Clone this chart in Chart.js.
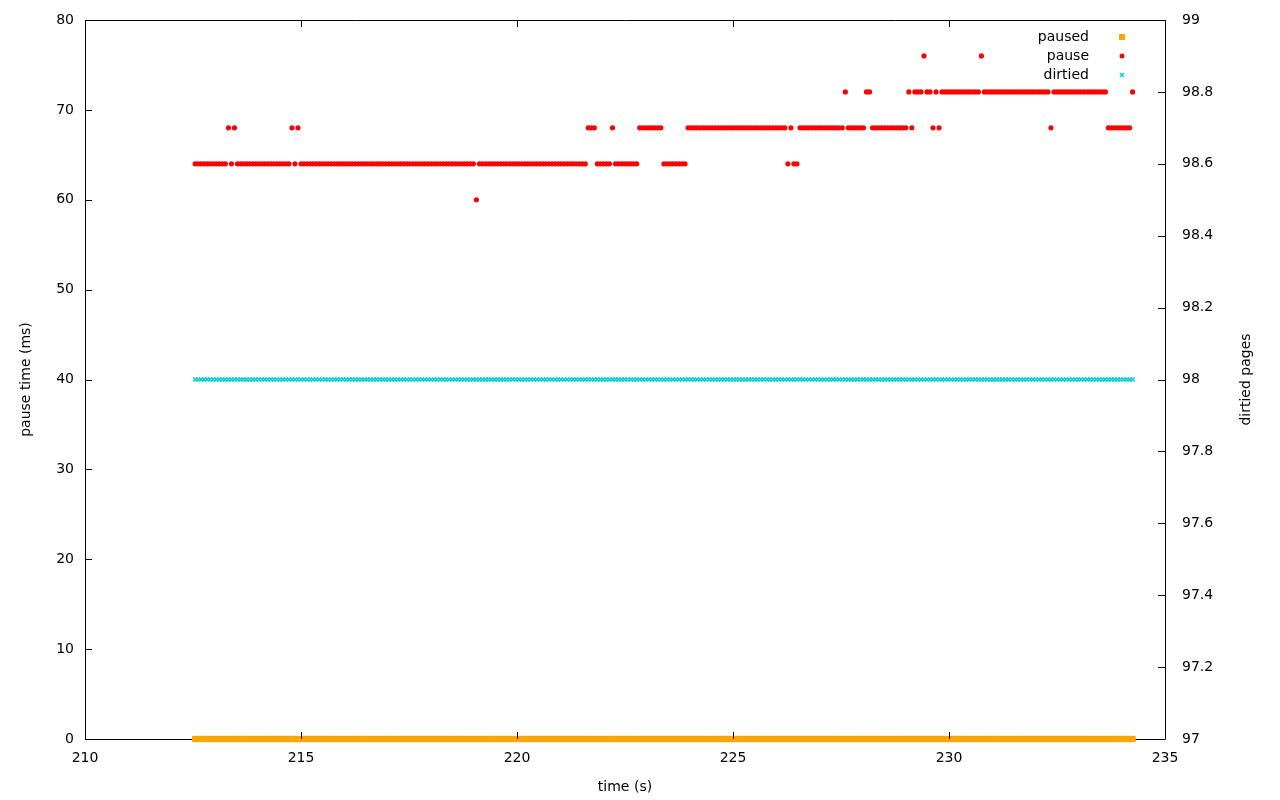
<!DOCTYPE html>
<html>
<head>
<meta charset="utf-8">
<script src="https://cdn.jsdelivr.net/npm/chart.js@4.4.1/dist/chart.umd.min.js"></script>
<style>
  html, body { margin: 0; padding: 0; background: #fff; }
  canvas { display: block; }
</style>
</head>
<body>
<canvas id="chart" width="1280" height="800"></canvas>
<script>
// sampling of the trace (one sample every ~0.07 s)
const sampleStart = 212.55;
const sampleStep = 0.07;

// pause time (ms), as [value, number of samples]
const pauseRuns = [
  [64, 11], [68, 1], [64, 1], [68, 1], [64, 18], [68, 1], [64, 1], [68, 1],
  [64, 58], [60, 1], [64, 36], [68, 3], [64, 5], [68, 1], [64, 8], [68, 8],
  [64, 8], [68, 33], [64, 1], [68, 1], [64, 2], [68, 15], [72, 1], [68, 6],
  [72, 2], [68, 12], [72, 1], [68, 1], [72, 3], [76, 1], [72, 2], [68, 1],
  [72, 1], [68, 1], [72, 13], [76, 1], [72, 22], [68, 1], [72, 18], [68, 8],
  [72, 1]
];
const pausedValue = 0;     // paused flag, always 0 in this window
const dirtiedValue = 98;   // dirtied pages, constant

const xTicks = [210, 215, 220, 225, 230, 235];
const seriesNames = ['paused', 'pause', 'dirtied'];
const seriesColors = ['#ffa500', '#ff0000', '#00ced1'];

// build points
const pausePts = [];
const pausedPts = [];
const dirtiedPts = [];
let idx = 0;
pauseRuns.forEach(([v, n]) => {
  for (let k = 0; k < n; k++) {
    const t = sampleStart + idx * sampleStep;
    pausePts.push({ x: t, y: v });
    pausedPts.push({ x: t, y: pausedValue });
    dirtiedPts.push({ x: t, y: dirtiedValue });
    idx++;
  }
});

const FONT = 'DejaVu Sans';
const TICK = 7;

// border, inward ticks, axis titles and gnuplot-like key
const gnuFrame = {
  id: 'gnuFrame',
  beforeDatasetsDraw(chart) {
    const { ctx, chartArea: a } = chart;
    ctx.save();
    ctx.strokeStyle = '#000';
    ctx.lineWidth = 1;
    ctx.beginPath();
    ctx.rect(a.left + 0.5, a.top + 0.5, a.right - a.left, a.bottom - a.top);
    ctx.stroke();
    ctx.restore();
  },
  afterDraw(chart) {
    const { ctx, chartArea: a, scales } = chart;
    ctx.save();
    ctx.strokeStyle = '#000';
    ctx.lineWidth = 1;
    ctx.beginPath();
    xTicks.forEach((v) => {
      const x = Math.round(scales.x.getPixelForValue(v)) + 0.5;
      ctx.moveTo(x, a.bottom); ctx.lineTo(x, a.bottom - TICK);
      ctx.moveTo(x, a.top); ctx.lineTo(x, a.top + TICK);
    });
    scales.y.ticks.forEach((t) => {
      const y = Math.round(scales.y.getPixelForValue(t.value)) + 0.5;
      ctx.moveTo(a.left, y); ctx.lineTo(a.left + TICK, y);
    });
    scales.y2.ticks.forEach((t) => {
      const y = Math.round(scales.y2.getPixelForValue(t.value)) + 0.5;
      ctx.moveTo(a.right, y); ctx.lineTo(a.right - TICK, y);
    });
    ctx.stroke();

    // axis titles
    ctx.fillStyle = '#000';
    ctx.font = '14px "' + FONT + '"';
    ctx.textAlign = 'center';
    ctx.textBaseline = 'middle';
    ctx.fillText('time (s)', (a.left + a.right) / 2, 787);
    ctx.save();
    ctx.translate(26, (a.top + a.bottom) / 2);
    ctx.rotate(-Math.PI / 2);
    ctx.fillText('pause time (ms)', 0, 0);
    ctx.restore();
    ctx.save();
    ctx.translate(1246, (a.top + a.bottom) / 2);
    ctx.rotate(-Math.PI / 2);
    ctx.fillText('dirtied pages', 0, 0);
    ctx.restore();

    // key
    const rows = [37, 56, 75];
    ctx.textAlign = 'right';
    seriesNames.forEach((name, i) => {
      ctx.fillStyle = '#000';
      ctx.fillText(name, 1089, rows[i]);
      const mx = 1122, my = rows[i];
      ctx.fillStyle = seriesColors[i];
      ctx.strokeStyle = seriesColors[i];
      if (i === 0) {
        ctx.fillRect(mx - 3, my - 3, 6, 6);
      } else if (i === 1) {
        ctx.beginPath(); ctx.arc(mx, my, 2.5, 0, Math.PI * 2); ctx.fill();
      } else {
        ctx.lineWidth = 1.5;
        ctx.beginPath();
        ctx.moveTo(mx - 2, my - 2); ctx.lineTo(mx + 2, my + 2);
        ctx.moveTo(mx + 2, my - 2); ctx.lineTo(mx - 2, my + 2);
        ctx.stroke();
      }
    });
    ctx.restore();
  }
};

const tickFont = { family: FONT, size: 14 };

// fixed box sizes so the plot area matches the gnuplot frame
const fitSide = (w) => (s) => { s.width = w; s.paddingTop = 0; s.paddingBottom = 0; };

new Chart(document.getElementById('chart'), {
  type: 'scatter',
  data: {
    datasets: [
      {
        label: seriesNames[0], data: pausedPts, yAxisID: 'y', clip: false,
        pointStyle: 'rect', pointRadius: 4.4, borderWidth: 0,
        backgroundColor: seriesColors[0], borderColor: seriesColors[0]
      },
      {
        label: seriesNames[1], data: pausePts, yAxisID: 'y', clip: false,
        pointStyle: 'circle', pointRadius: 2.6, borderWidth: 0,
        backgroundColor: seriesColors[1], borderColor: seriesColors[1]
      },
      {
        label: seriesNames[2], data: dirtiedPts, yAxisID: 'y2', clip: false,
        pointStyle: 'crossRot', pointRadius: 2.8, borderWidth: 1.5,
        backgroundColor: seriesColors[2], borderColor: seriesColors[2]
      }
    ]
  },
  plugins: [gnuFrame],
  options: {
    responsive: false,
    animation: false,
    events: [],
    layout: { padding: { top: 20, left: 0, right: 0, bottom: 0 } },
    plugins: {
      legend: { display: false },
      tooltip: { enabled: false }
    },
    scales: {
      x: {
        type: 'linear', min: 210, max: 235,
        afterBuildTicks: (s) => { s.ticks = xTicks.map((v) => ({ value: v })); },
        afterFit: (s) => { s.height = 61; s.paddingLeft = 0; s.paddingRight = 0; },
        ticks: { color: '#000', font: tickFont, padding: 11, maxRotation: 0 },
        grid: { display: false, drawTicks: false },
        border: { display: false }
      },
      y: {
        position: 'left', min: 0, max: 80,
        afterFit: fitSide(85),
        ticks: { stepSize: 10, color: '#000', font: tickFont, padding: 11 },
        grid: { display: false, drawTicks: false },
        border: { display: false }
      },
      y2: {
        position: 'right', min: 97, max: 99,
        afterFit: fitSide(115),
        ticks: {
          stepSize: 0.2, color: '#000', font: tickFont, padding: 17,
          callback: (v) => String(+v.toFixed(1))
        },
        grid: { display: false, drawTicks: false },
        border: { display: false }
      }
    }
  }
});
</script>
</body>
</html>
